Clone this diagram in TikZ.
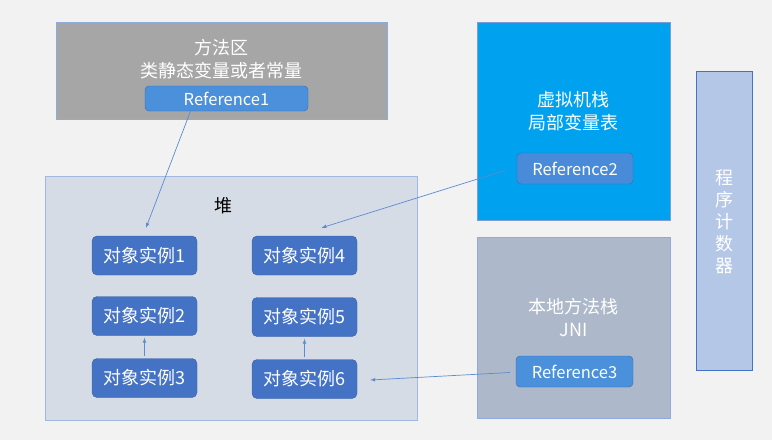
\documentclass[tikz,border=0pt]{standalone}
\usepackage{fontspec}
\setmainfont{Noto Sans CJK SC}
\usepackage{xcolor}
\usepackage{tikz}
\usetikzlibrary{arrows,positioning}

\definecolor{bggray}{HTML}{F2F2F2}
\definecolor{methodgray}{HTML}{A6A6A6}
\definecolor{heapgray}{HTML}{D6DCE5}
\definecolor{objblue}{HTML}{4472C4}
\definecolor{refblue}{HTML}{4A90DB}
\definecolor{stackblue}{HTML}{00A2F0}
\definecolor{nativegray}{HTML}{ADB9CA}
\definecolor{pcblue}{HTML}{B4C7E7}
\definecolor{linkblue}{HTML}{5B8BD0}

\begin{document}
\begin{tikzpicture}
		[x=1pt,y=-1pt,
		area/.style={draw=#1,line width=0.8pt,inner sep=0pt},
		title/.style={text=white,align=center,font=\fontsize{18}{23}\selectfont},
		obj/.style={fill=objblue,draw=objblue!85!black,rounded corners=5pt,text=white,
			minimum width=105pt,minimum height=39pt,font=\fontsize{18}{20}\selectfont},
		ref/.style={fill=refblue,draw=objblue!90!black,rounded corners=4pt,text=white,
			inner sep=0pt,font=\fontsize{16.5}{18}\selectfont},
		link/.style={->,>=latex,draw=linkblue,line width=0.7pt}]
		\fill[bggray] (0,0) rectangle (772,440);
		\useasboundingbox (0,0) rectangle (772,440);
		% method area
		\node[area=objblue!60,fill=methodgray,minimum width=331pt,minimum height=97pt] (method) at (221.5,70.5) {};
		\node[title] (methodtxt) at (221.5,59.5) {方法区\\类静态变量或者常量};
		\node[ref,minimum width=163pt,minimum height=25pt] (ref1) at (226.5,98.5) {Reference1};
		% heap
		\node[area=objblue!50,fill=heapgray,minimum width=372pt,minimum height=244pt] (heap) at (231,298) {};
		\node[font=\fontsize{18}{20}\selectfont] (heaptxt) at (223,206) {堆};
		\node[obj] (o1) at (144.5,255.5) {对象实例1};
		\node[obj] (o2) at (144.5,316) {对象实例2};
		\node[obj] (o3) at (144.5,378) {对象实例3};
		\node[obj] (o4) at (304.5,255.5) {对象实例4};
		\node[obj] (o5) at (304.5,317) {对象实例5};
		\node[obj] (o6) at (304.5,379) {对象实例6};
		% vm stack
		\node[area=objblue!70,fill=stackblue,minimum width=193pt,minimum height=198pt] (vmstack) at (573.5,121) {};
		\node[title] (vmtxt) at (573.5,111) {虚拟机栈\\局部变量表};
		\node[ref,fill=refblue!85!objblue,minimum width=116pt,minimum height=31pt] (ref2) at (575,168.5) {Reference2};
		% native method stack
		\node[area=objblue!60,fill=nativegray,minimum width=193pt,minimum height=181pt] (native) at (573.5,327.5) {};
		\node[title] (nativetxt) at (573.5,317) {本地方法栈\\JNI};
		\node[ref,minimum width=117pt,minimum height=31pt] (ref3) at (574.5,371.5) {Reference3};
		% program counter
		\node[area=objblue,fill=pcblue,minimum width=56pt,minimum height=299pt] (pc) at (724,220.5) {};
		\node[text=white,align=center,font=\fontsize{18}{22}\selectfont] (pctxt) at (724,222) {程\\序\\计\\数\\器};
		% links
		\draw[link] ([xshift=-36pt]ref1.south) -- ([xshift=1.5pt,yshift=8pt]o1.north);
		\draw[link] ([xshift=-12pt,yshift=-2pt]ref2.west) -- ([xshift=17pt,yshift=8pt]o4.north);
		\draw[link] ([xshift=-6pt,yshift=-1pt]ref3.west) -- ([xshift=13pt,yshift=-1pt]o6.east);
		\draw[link] ([yshift=2pt]o3.north) -- ([yshift=-2pt]o2.south);
		\draw[link] ([yshift=2pt]o6.north) -- ([yshift=-2pt]o5.south);
\end{tikzpicture}
\end{document}
